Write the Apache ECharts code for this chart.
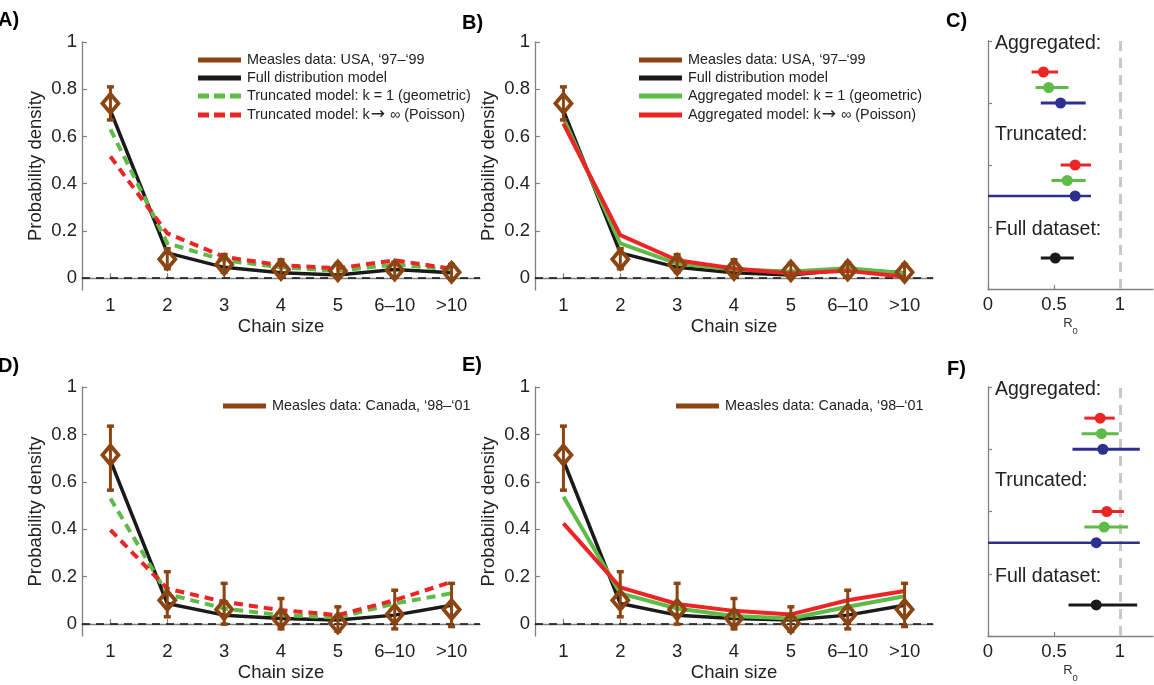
<!DOCTYPE html>
<html>
<head>
<meta charset="utf-8">
<script src="https://cdn.jsdelivr.net/npm/echarts@6/dist/echarts.min.js"></script>
<style>
  html, body { margin: 0; padding: 0; background: #ffffff; }
  #chart { width: 1154px; height: 685px; }
</style>
</head>
<body>
<div id="chart"></div>
<script>
// ---- categories and ticks ----
const chainSizes = ['1', '2', '3', '4', '5', '6–10', '>10'];
const densityTicks = [0, 0.2, 0.4, 0.6, 0.8, 1];
const r0Ticks = [0, 0.5, 1];

// ---- USA, 1997–1999: observed chain-size distribution with error bars ----
const usaObserved = [0.74, 0.08, 0.058, 0.037, 0.031, 0.034, 0.025];
const usaLow      = [0.67, 0.04, 0.025, 0.008, 0.006, 0.006, -0.005];
const usaHigh     = [0.81, 0.125, 0.10, 0.078, 0.062, 0.066, 0.058];
// model fits, USA
const usaFull       = [0.71, 0.107, 0.046, 0.023, 0.014, 0.037, 0.023];
const usaTruncGeo   = [0.63, 0.148, 0.076, 0.046, 0.031, 0.058, 0.037];
const usaTruncPois  = [0.515, 0.19, 0.09, 0.055, 0.042, 0.076, 0.04];
const usaAggGeo     = [0.677, 0.147, 0.062, 0.037, 0.028, 0.042, 0.021];
const usaAggPois    = [0.655, 0.182, 0.076, 0.041, 0.02, 0.031, 0.006];

// ---- Canada, 1998–2001 ----
const caObserved = [0.713, 0.101, 0.062, 0.024, 0.005, 0.041, 0.062];
const caLow      = [0.565, 0.031, 0.0, -0.02, -0.03, -0.02, -0.01];
const caHigh     = [0.835, 0.221, 0.172, 0.108, 0.073, 0.143, 0.172];
const caFull       = [0.69, 0.087, 0.038, 0.024, 0.017, 0.038, 0.08];
const caTruncGeo   = [0.53, 0.127, 0.066, 0.038, 0.028, 0.087, 0.13];
const caTruncPois  = [0.397, 0.15, 0.094, 0.059, 0.038, 0.101, 0.178];
const caAggGeo     = [0.537, 0.13, 0.066, 0.034, 0.024, 0.073, 0.118];
const caAggPois    = [0.425, 0.155, 0.085, 0.056, 0.041, 0.101, 0.14];

// ---- R0 estimates (point, lower, upper) per fitted model ----
// rows: aggregated Poisson, aggregated geometric, aggregated full,
//       truncated Poisson, truncated geometric, truncated full, full dataset
const r0Rows     = [3.5, 3.25, 3.0, 2.0, 1.75, 1.5, 0.5];
const usaR0      = [0.42, 0.46, 0.55, 0.66, 0.60, 0.66, 0.51];
const usaR0Low   = [0.33, 0.36, 0.40, 0.55, 0.48, 0.0, 0.40];
const usaR0High  = [0.53, 0.61, 0.74, 0.78, 0.74, 0.78, 0.65];
const caR0       = [0.85, 0.86, 0.87, 0.90, 0.88, 0.82, 0.82];
const caR0Low    = [0.73, 0.71, 0.64, 0.79, 0.73, 0.0, 0.61];
const caR0High   = [0.96, 0.99, 1.15, 1.03, 1.06, 1.15, 1.13];
const groupNames = ['Aggregated:', 'Truncated:', 'Full dataset:'];
const groupRows  = [3.95, 2.49, 0.96];

// ---- styling ----
const FONT = "'Liberation Sans', Arial, Helvetica, sans-serif";
const BROWN = '#8b4513';
const BLACK = '#1a1a1a';
const GREEN = '#5dbb48';
const RED = '#ec2426';
const BLUE = '#2c3190';
const AXIS = '#808080';
const TEXT = '#222222';
const rowColors = [RED, GREEN, BLUE, RED, GREEN, BLUE, BLACK];

const chart = echarts.init(document.getElementById('chart'), null, { renderer: 'canvas' });

const grids = [
  { left: 82,  top: 42,  width: 398, height: 248 },  // A
  { left: 535, top: 42,  width: 398, height: 248 },  // B
  { left: 988, top: 41,  width: 165, height: 248 },  // C
  { left: 82,  top: 387, width: 398, height: 249 },  // D
  { left: 535, top: 387, width: 398, height: 249 },  // E
  { left: 988, top: 387, width: 165, height: 249 }   // F
];

const axisLine = { show: true, lineStyle: { color: AXIS, width: 1.3 } };

function chainXAxis(g) {
  return {
    type: 'category', gridIndex: g, data: chainSizes, boundaryGap: true,
    axisLine: axisLine,
    axisTick: { show: true, inside: true, alignWithLabel: true, length: 5, lineStyle: { color: AXIS, width: 1.2 } },
    axisLabel: { color: TEXT, fontSize: 18.5, fontFamily: FONT, margin: 6 },
    name: 'Chain size', nameLocation: 'middle', nameGap: 27,
    nameTextStyle: { color: TEXT, fontSize: 18.5, fontFamily: FONT },
    splitLine: { show: false }
  };
}
function densityYAxis(g) {
  return {
    type: 'value', gridIndex: g, min: -0.05, max: 1,
    axisLine: axisLine,
    axisTick: { show: true, inside: true, length: 5, customValues: densityTicks, lineStyle: { color: AXIS, width: 1.2 } },
    axisLabel: { color: TEXT, fontSize: 18.5, fontFamily: FONT, margin: 5, customValues: densityTicks },
    name: 'Probability density', nameLocation: 'middle', nameGap: 37,
    nameTextStyle: { color: TEXT, fontSize: 18.5, fontFamily: FONT },
    splitLine: { show: false }
  };
}
function r0XAxis(g) {
  return {
    type: 'value', gridIndex: g, min: 0, max: 1.25,
    axisLine: axisLine,
    axisTick: { show: true, inside: true, length: 4, customValues: r0Ticks, lineStyle: { color: AXIS, width: 1.2 } },
    axisLabel: { color: TEXT, fontSize: 18.5, fontFamily: FONT, margin: 6, customValues: r0Ticks },
    name: '{r|R}{s|0}', nameLocation: 'middle', nameGap: 28,
    nameTextStyle: {
      color: '#333', fontFamily: FONT,
      rich: {
        r: { fontSize: 13, fontFamily: FONT, color: '#333', lineHeight: 14, verticalAlign: 'top' },
        s: { fontSize: 9.5, fontFamily: FONT, color: '#333', lineHeight: 10, padding: [9, 0, 0, 0], verticalAlign: 'top' }
      }
    },
    splitLine: { show: false }
  };
}
function r0YAxis(g) {
  return {
    type: 'value', gridIndex: g, min: 0, max: 4, interval: 1,
    axisLine: axisLine,
    axisTick: { show: true, inside: true, length: 4, lineStyle: { color: AXIS, width: 1.2 } },
    axisLabel: { show: false },
    splitLine: { show: false }
  };
}

// error bar + hollow diamond for each observed proportion
function renderObserved(params, api) {
  const i = api.value(0);
  const p = api.coord([i, api.value(1)]);
  const lo = api.coord([i, api.value(2)]);
  const hi = api.coord([i, api.value(3)]);
  const cap = 3.5, hw = 8, hh = 9.5;
  const s = { stroke: BROWN, lineWidth: 3, fill: null };
  return {
    type: 'group',
    children: [
      { type: 'line', shape: { x1: p[0], y1: lo[1], x2: p[0], y2: hi[1] }, style: s },
      { type: 'line', shape: { x1: p[0] - cap, y1: lo[1], x2: p[0] + cap, y2: lo[1] }, style: { stroke: BROWN, lineWidth: 3.5 } },
      { type: 'line', shape: { x1: p[0] - cap, y1: hi[1], x2: p[0] + cap, y2: hi[1] }, style: { stroke: BROWN, lineWidth: 3.5 } },
      { type: 'polygon', shape: { points: [[p[0], p[1] - hh], [p[0] + hw, p[1]], [p[0], p[1] + hh], [p[0] - hw, p[1]]] },
        style: { stroke: BROWN, lineWidth: 3.8, fill: 'rgba(255,255,255,0)', lineJoin: 'miter' } }
    ]
  };
}

function modelLine(g, values, color, dashed, z) {
  return {
    type: 'line', xAxisIndex: g, yAxisIndex: g, data: values,
    symbol: 'none', smooth: false, z: z, silent: true,
    lineStyle: { color: color, width: 4, type: dashed ? [9, 6] : 'solid', cap: 'butt' }
  };
}

function chainPanel(g, obs, lo, hi, full, geo, pois, dashed) {
  const zero = {
    type: 'line', xAxisIndex: g, yAxisIndex: g, data: [], silent: true, z: 1,
    markLine: {
      silent: true, symbol: 'none', label: { show: false }, z: 1,
      lineStyle: { color: '#111', type: [8, 6], width: 1.5 },
      data: [{ yAxis: 0 }]
    }
  };
  const blackLine = modelLine(g, full, BLACK, false, 2);
  blackLine.lineStyle.width = 3.5;
  return [
    zero,
    blackLine,
    modelLine(g, geo, GREEN, dashed, 3),
    modelLine(g, pois, RED, dashed, 4),
    {
      type: 'custom', xAxisIndex: g, yAxisIndex: g, z: 10, silent: true, clip: false,
      renderItem: renderObserved,
      encode: { x: 0, y: 1 },
      data: chainSizes.map((c, i) => [i, obs[i], lo[i], hi[i]])
    }
  ];
}

function renderR0(params, api) {
  const row = api.value(1);
  const c = api.coord([api.value(0), row]);
  const a = api.coord([api.value(2), row]);
  const b = api.coord([api.value(3), row]);
  const color = rowColors[params.dataIndex];
  const wide = params.dataIndex === 5;
  return {
    type: 'group',
    children: [
      { type: 'line', shape: { x1: a[0], y1: c[1], x2: b[0], y2: c[1] }, style: { stroke: color, lineWidth: wide ? 2.5 : 3 } },
      { type: 'circle', shape: { cx: c[0], cy: c[1], r: 5.5 }, style: { fill: color } }
    ]
  };
}
function renderGroupName(params, api) {
  const p = api.coord([api.value(0), api.value(1)]);
  return {
    type: 'text',
    x: p[0], y: p[1],
    style: { text: groupNames[params.dataIndex], fill: TEXT, font: '19.5px ' + FONT, align: 'left', verticalAlign: 'middle' }
  };
}

function r0Panel(g, est, lo, hi) {
  return [
    {
      type: 'line', xAxisIndex: g, yAxisIndex: g, data: [], silent: true, z: 1,
      markLine: {
        silent: true, symbol: 'none', label: { show: false }, z: 1,
        lineStyle: { color: '#c8c8c8', type: [10, 7], width: 3 },
        data: [{ xAxis: 1 }]
      }
    },
    {
      type: 'custom', xAxisIndex: g, yAxisIndex: g, z: 5, silent: true, clip: false,
      renderItem: renderR0, encode: { x: 0, y: 1 },
      data: r0Rows.map((r, i) => [est[i], r, lo[i], hi[i]])
    },
    {
      type: 'custom', xAxisIndex: g, yAxisIndex: g, z: 5, silent: true, clip: false,
      renderItem: renderGroupName, encode: { x: 0, y: 1 },
      data: groupRows.map(r => [0.053, r])
    }
  ];
}

// ---- legends and panel letters ----
function legendRows(x0, rows) {
  const els = [];
  rows.forEach(r => {
    els.push({
      type: 'line', silent: true,
      shape: { x1: x0, y1: r.y, x2: x0 + 43, y2: r.y },
      style: { stroke: r.color, lineWidth: 5, lineDash: r.dash ? [11, 5] : null }
    });
    els.push({
      type: 'text', silent: true, x: x0 + 49, y: r.y,
      style: {
        text: r.text, fill: TEXT, font: '14.4px ' + FONT, align: 'left', verticalAlign: 'middle',
        rich: { arr: { fontSize: 17, fontFamily: "'DejaVu Sans', " + FONT, fill: TEXT, padding: [0, 1, 0, 1] } }
      }
    });
  });
  return els;
}
function panelLetter(text, x, y) {
  return {
    type: 'text', silent: true, x: x, y: y,
    style: { text: text, fill: '#000', font: 'bold 20px ' + FONT, align: 'left', verticalAlign: 'bottom' }
  };
}

const graphics = [].concat(
  legendRows(198, [
    { y: 60, color: BROWN, text: 'Measles data: USA, ‘97–‘99' },
    { y: 78, color: BLACK, text: 'Full distribution model' },
    { y: 96, color: GREEN, dash: true, text: 'Truncated model: k = 1 (geometric)' },
    { y: 115, color: RED, dash: true, text: 'Truncated model: k{arr|→} ∞ (Poisson)' }
  ]),
  legendRows(639, [
    { y: 60, color: BROWN, text: 'Measles data: USA, ‘97–‘99' },
    { y: 78, color: BLACK, text: 'Full distribution model' },
    { y: 96, color: GREEN, text: 'Aggregated model: k = 1 (geometric)' },
    { y: 115, color: RED, text: 'Aggregated model: k{arr|→} ∞ (Poisson)' }
  ]),
  legendRows(223, [{ y: 406, color: BROWN, text: 'Measles data: Canada, ‘98–‘01' }]),
  legendRows(676, [{ y: 406, color: BROWN, text: 'Measles data: Canada, ‘98–‘01' }]),
  [
    panelLetter('A)', -2, 30),
    panelLetter('B)', 462, 33),
    panelLetter('C)', 946, 31),
    panelLetter('D)', -2, 376),
    panelLetter('E)', 462, 375),
    panelLetter('F)', 947, 379)
  ]
);

const option = {
  animation: false,
  backgroundColor: '#ffffff',
  textStyle: { fontFamily: FONT },
  grid: grids.map(g => Object.assign({ containLabel: false }, g)),
  xAxis: [chainXAxis(0), chainXAxis(1), r0XAxis(2), chainXAxis(3), chainXAxis(4), r0XAxis(5)],
  yAxis: [densityYAxis(0), densityYAxis(1), r0YAxis(2), densityYAxis(3), densityYAxis(4), r0YAxis(5)],
  series: [].concat(
    chainPanel(0, usaObserved, usaLow, usaHigh, usaFull, usaTruncGeo, usaTruncPois, true),
    chainPanel(1, usaObserved, usaLow, usaHigh, usaFull, usaAggGeo, usaAggPois, false),
    r0Panel(2, usaR0, usaR0Low, usaR0High),
    chainPanel(3, caObserved, caLow, caHigh, caFull, caTruncGeo, caTruncPois, true),
    chainPanel(4, caObserved, caLow, caHigh, caFull, caAggGeo, caAggPois, false),
    r0Panel(5, caR0, caR0Low, caR0High)
  ),
  graphic: graphics
};

chart.setOption(option);
</script>
</body>
</html>
